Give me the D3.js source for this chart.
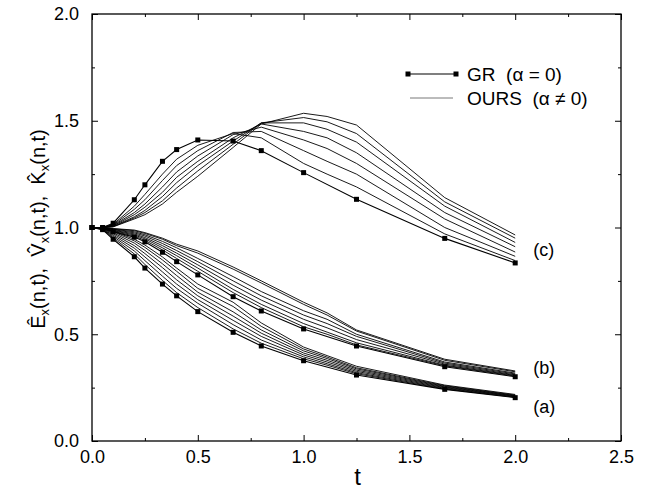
<!DOCTYPE html>
<html>
<head>
<meta charset="utf-8">
<script src="https://cdn.jsdelivr.net/npm/d3@7"></script>
<style>
	body { margin: 0; background: #fff; }
	text { font-family: "Liberation Sans", Arial, sans-serif; fill: #000; }
</style>
</head>
<body>
<svg id="chart" width="650" height="489"></svg>
<script>
// -------------- DATA --------------
// time grid of the GR curves (markers) and of the OURS curves
const tGR = [0, 0.05, 0.1, 0.2, 0.25, 0.333, 0.4, 0.5, 0.667, 0.8, 1.0, 1.25, 1.667, 2.0];
const tOurs = [0, 0.05, 0.1, 0.2, 0.25, 0.333, 0.4, 0.5, 0.667, 0.8, 1.0, 1.111, 1.25, 1.667, 2.0];

// GR (alpha = 0)
const grA = [1.0, 0.99, 0.945, 0.863, 0.81, 0.735, 0.68, 0.606, 0.509, 0.445, 0.376, 0.309, 0.242, 0.203];
const grB = [1.0, 0.997, 0.98, 0.955, 0.933, 0.884, 0.84, 0.778, 0.676, 0.609, 0.525, 0.445, 0.348, 0.301];
const grC = [1.0, 1.0, 1.02, 1.13, 1.2, 1.31, 1.365, 1.41, 1.405, 1.36, 1.257, 1.132, 0.949, 0.834];

// OURS (alpha != 0), one row per curve, on tOurs
const oursA = [
	[1.0, 0.991, 0.952, 0.876, 0.827, 0.752, 0.695, 0.625, 0.525, 0.458, 0.385, 0.355, 0.315, 0.244, 0.205],
	[1.0, 0.992, 0.958, 0.89, 0.845, 0.772, 0.715, 0.645, 0.545, 0.473, 0.394, 0.362, 0.32, 0.247, 0.207],
	[1.0, 0.993, 0.964, 0.903, 0.862, 0.792, 0.735, 0.662, 0.565, 0.49, 0.403, 0.37, 0.326, 0.25, 0.209],
	[1.0, 0.994, 0.97, 0.915, 0.878, 0.812, 0.755, 0.68, 0.585, 0.505, 0.412, 0.378, 0.332, 0.253, 0.211],
	[1.0, 0.995, 0.975, 0.927, 0.893, 0.83, 0.775, 0.697, 0.605, 0.52, 0.422, 0.386, 0.338, 0.256, 0.213],
	[1.0, 0.996, 0.98, 0.937, 0.907, 0.848, 0.795, 0.715, 0.63, 0.537, 0.431, 0.393, 0.343, 0.259, 0.215],
	[1.0, 0.997, 0.983, 0.945, 0.918, 0.862, 0.81, 0.735, 0.65, 0.553, 0.44, 0.4, 0.35, 0.262, 0.218]
];
const oursB = [
	[1.0, 0.997, 0.982, 0.96, 0.94, 0.895, 0.855, 0.795, 0.695, 0.625, 0.535, 0.5, 0.45, 0.352, 0.304],
	[1.0, 0.997, 0.985, 0.965, 0.947, 0.905, 0.868, 0.81, 0.71, 0.64, 0.55, 0.51, 0.46, 0.355, 0.307],
	[1.0, 0.998, 0.987, 0.97, 0.953, 0.915, 0.88, 0.825, 0.73, 0.66, 0.57, 0.53, 0.475, 0.36, 0.31],
	[1.0, 0.998, 0.99, 0.975, 0.96, 0.925, 0.892, 0.84, 0.75, 0.68, 0.59, 0.55, 0.49, 0.365, 0.314],
	[1.0, 0.998, 0.992, 0.98, 0.966, 0.935, 0.905, 0.855, 0.77, 0.70, 0.61, 0.57, 0.50, 0.37, 0.318],
	[1.0, 0.999, 0.994, 0.985, 0.972, 0.945, 0.915, 0.88, 0.805, 0.74, 0.64, 0.59, 0.515, 0.378, 0.324],
	[1.0, 0.999, 0.995, 0.988, 0.976, 0.95, 0.922, 0.89, 0.815, 0.75, 0.65, 0.60, 0.52, 0.383, 0.328]
];
const oursC = [
	[1.0, 1.0, 1.015, 1.10, 1.155, 1.25, 1.32, 1.385, 1.44, 1.42, 1.30, 1.25, 1.19, 0.97, 0.845],
	[1.0, 1.0, 1.012, 1.085, 1.13, 1.22, 1.29, 1.36, 1.445, 1.45, 1.36, 1.31, 1.25, 1.00, 0.865],
	[1.0, 1.0, 1.01, 1.07, 1.11, 1.19, 1.26, 1.335, 1.435, 1.47, 1.41, 1.37, 1.30, 1.04, 0.885],
	[1.0, 1.0, 1.008, 1.06, 1.095, 1.165, 1.235, 1.31, 1.42, 1.485, 1.45, 1.42, 1.35, 1.07, 0.91],
	[1.0, 1.0, 1.006, 1.05, 1.08, 1.145, 1.21, 1.29, 1.405, 1.49, 1.49, 1.46, 1.40, 1.10, 0.93],
	[1.0, 1.0, 1.004, 1.045, 1.07, 1.125, 1.185, 1.265, 1.39, 1.49, 1.515, 1.495, 1.44, 1.12, 0.95],
	[1.0, 1.0, 1.003, 1.04, 1.06, 1.11, 1.165, 1.24, 1.375, 1.485, 1.535, 1.52, 1.48, 1.14, 0.965]
];

const xMajor = [0, 0.5, 1.0, 1.5, 2.0, 2.5];
const xMinor = [0.25, 0.75, 1.25, 1.75, 2.25];
const yMajor = [0, 0.5, 1.0, 1.5, 2.0];
const yMinor = [0.25, 0.75, 1.25, 1.75];

const familyLabels = [
	{ name: "(a)", y: 0.16 },
	{ name: "(b)", y: 0.34 },
	{ name: "(c)", y: 0.895 }
];

// -------------- CHART --------------
const size = { w: 650, h: 489 };
const margin = { l: 92, r: 29, t: 14, b: 48 };

const svg = d3.select("#chart");

let xScale = d3
	.scaleLinear()
	.domain([0, 2.5])
	.range([margin.l, size.w - margin.r]);

let yScale = d3
	.scaleLinear()
	.domain([0, 2])
	.range([size.h - margin.b, margin.t]);

const fmt = d3.format(".1f");

function styleAxis(g) {
	g.select(".domain").remove();
	g.selectAll("line").attr("stroke", "#000").attr("stroke-width", 1);
	g.selectAll("text")
		.attr("font-size", 18)
		.attr("font-family", '"Liberation Sans", Arial, sans-serif')
		.attr("fill", "#000");
}

const bottomY = size.h - margin.b;
const rightX = size.w - margin.r;

// bottom
svg.append("g")
	.attr("transform", `translate(0, ${bottomY})`)
	.call(d3.axisBottom(xScale).tickValues(xMajor).tickSizeInner(-6).tickSizeOuter(0).tickPadding(9).tickFormat(fmt))
	.call(styleAxis);
svg.append("g")
	.attr("transform", `translate(0, ${bottomY})`)
	.call(d3.axisBottom(xScale).tickValues(xMinor).tickSize(-3).tickFormat(""))
	.call(styleAxis);
// top
svg.append("g")
	.attr("transform", `translate(0, ${margin.t})`)
	.call(d3.axisTop(xScale).tickValues(xMajor).tickSize(-6).tickFormat(""))
	.call(styleAxis);
svg.append("g")
	.attr("transform", `translate(0, ${margin.t})`)
	.call(d3.axisTop(xScale).tickValues(xMinor).tickSize(-3).tickFormat(""))
	.call(styleAxis);
// left
svg.append("g")
	.attr("transform", `translate(${margin.l}, 0)`)
	.call(d3.axisLeft(yScale).tickValues(yMajor).tickSizeInner(-6).tickSizeOuter(0).tickPadding(13).tickFormat(fmt))
	.call(styleAxis);
svg.append("g")
	.attr("transform", `translate(${margin.l}, 0)`)
	.call(d3.axisLeft(yScale).tickValues(yMinor).tickSize(-3).tickFormat(""))
	.call(styleAxis);
// right
svg.append("g")
	.attr("transform", `translate(${rightX}, 0)`)
	.call(d3.axisRight(yScale).tickValues(yMajor).tickSize(-6).tickFormat(""))
	.call(styleAxis);
svg.append("g")
	.attr("transform", `translate(${rightX}, 0)`)
	.call(d3.axisRight(yScale).tickValues(yMinor).tickSize(-3).tickFormat(""))
	.call(styleAxis);

// frame
svg.append("rect")
	.attr("x", margin.l)
	.attr("y", margin.t)
	.attr("width", rightX - margin.l)
	.attr("height", bottomY - margin.t)
	.attr("fill", "none")
	.attr("stroke", "#000")
	.attr("stroke-width", 1.3);

// curves
const linesG = svg.append("g").attr("class", "curves");

function curveLine(ts) {
	return d3
		.line()
		.x((d, i) => xScale(ts[i]))
		.y((d) => yScale(d));
}

[oursA, oursB, oursC].forEach((fam) => {
	linesG
		.selectAll(null)
		.data(fam)
		.join("path")
		.attr("d", curveLine(tOurs))
		.attr("fill", "none")
		.attr("stroke", "#000")
		.attr("stroke-width", 0.9);
});

[grA, grB, grC].forEach((gr) => {
	linesG.append("path")
		.attr("d", curveLine(tGR)(gr))
		.attr("fill", "none")
		.attr("stroke", "#000")
		.attr("stroke-width", 1.1);
	linesG
		.selectAll(null)
		.data(gr)
		.join("rect")
		.attr("x", (d, i) => xScale(tGR[i]) - 2.5)
		.attr("y", (d) => yScale(d) - 2.5)
		.attr("width", 5)
		.attr("height", 5)
		.attr("fill", "#000");
});

// family labels at the right ends
svg.selectAll(".fam")
	.data(familyLabels)
	.join("text")
	.attr("class", "fam")
	.attr("x", xScale(2.0) + 18)
	.attr("y", (d) => yScale(d.y) + 6)
	.attr("font-size", 18)
	.text((d) => d.name);

// legend
const legend = svg.append("g").attr("transform", "translate(408, 74)");
legend.append("line")
	.attr("x1", 0).attr("x2", 48).attr("y1", 0).attr("y2", 0)
	.attr("stroke", "#000").attr("stroke-width", 1.1);
legend.selectAll("rect")
	.data([0, 48])
	.join("rect")
	.attr("x", (d) => d - 2.5)
	.attr("y", -2.5)
	.attr("width", 5)
	.attr("height", 5)
	.attr("fill", "#000");
legend.append("text")
	.attr("x", 59).attr("y", 7)
	.attr("font-size", 19)
	.attr("xml:space", "preserve")
	.text("GR  (\u03B1 = 0)");
legend.append("line")
	.attr("x1", 2).attr("x2", 45).attr("y1", 24).attr("y2", 24)
	.attr("stroke", "#555").attr("stroke-width", 0.8);
legend.append("text")
	.attr("x", 59).attr("y", 31)
	.attr("font-size", 19)
	.attr("xml:space", "preserve")
	.text("OURS  (\u03B1 \u2260 0)");

// x axis title
svg.append("text")
	.attr("x", (margin.l + rightX) / 2 + 1)
	.attr("y", 485)
	.attr("text-anchor", "middle")
	.attr("font-size", 24)
	.text("t");

// y axis title
const yTitle = svg.append("text")
	.attr("transform", "translate(45, 229) rotate(-90)")
	.attr("text-anchor", "middle")
	.attr("font-size", 20)
	.attr("xml:space", "preserve");
[["\u00CA", "(n,t),  "], ["V\u0302", "(n,t),  "], ["K\u0302", "(n,t)"]].forEach((p) => {
	yTitle.append("tspan").text(p[0]);
	yTitle.append("tspan").attr("font-size", 13).attr("dy", 4).text("x");
	yTitle.append("tspan").attr("dy", -4).text(p[1]);
});
</script>
</body>
</html>
